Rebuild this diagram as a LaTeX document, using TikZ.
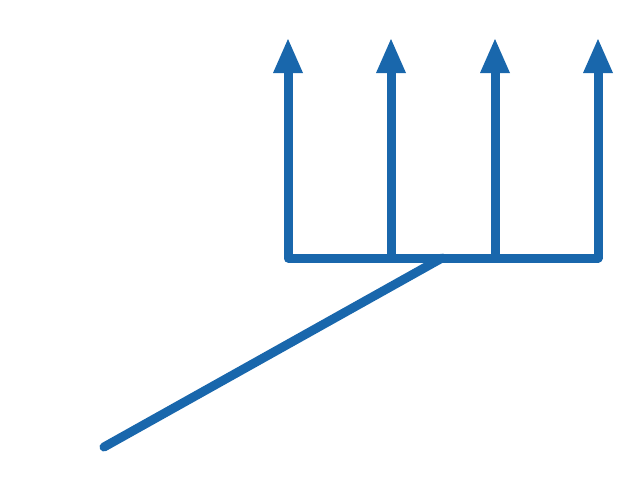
\documentclass[tikz,border=0pt]{standalone}
\usetikzlibrary{arrows.meta}
\definecolor{lineblue}{RGB}{25,103,172}
\begin{document}
\begin{tikzpicture}[x=1pt,y=-1pt,
  wire/.style={draw=lineblue,line width=9pt,line join=round},
  uparrow/.style={wire,-{Triangle[length=34pt,width=30pt,line width=0pt]}}]
\useasboundingbox (0,0) rectangle (640,480);
\coordinate (lt) at (288,39);
\coordinate (lb) at (288,258);
\coordinate (rb) at (598,258);
\coordinate (rt) at (598,39);
\coordinate (m1b) at (391,258);
\coordinate (m1t) at (391,39);
\coordinate (m2b) at (495,258);
\coordinate (m2t) at (495,39);
\coordinate (jn) at (442,258);
\coordinate (tail) at (104,447);
\draw[wire,{Triangle[length=34pt,width=30pt,line width=0pt]}-{Triangle[length=34pt,width=30pt,line width=0pt]}] (lt) -- (lb) -- (rb) -- (rt);
\draw[uparrow] (m1b) -- (m1t);
\draw[uparrow] (m2b) -- (m2t);
\draw[wire,line cap=round] (tail) -- (jn);
\end{tikzpicture}
\end{document}
